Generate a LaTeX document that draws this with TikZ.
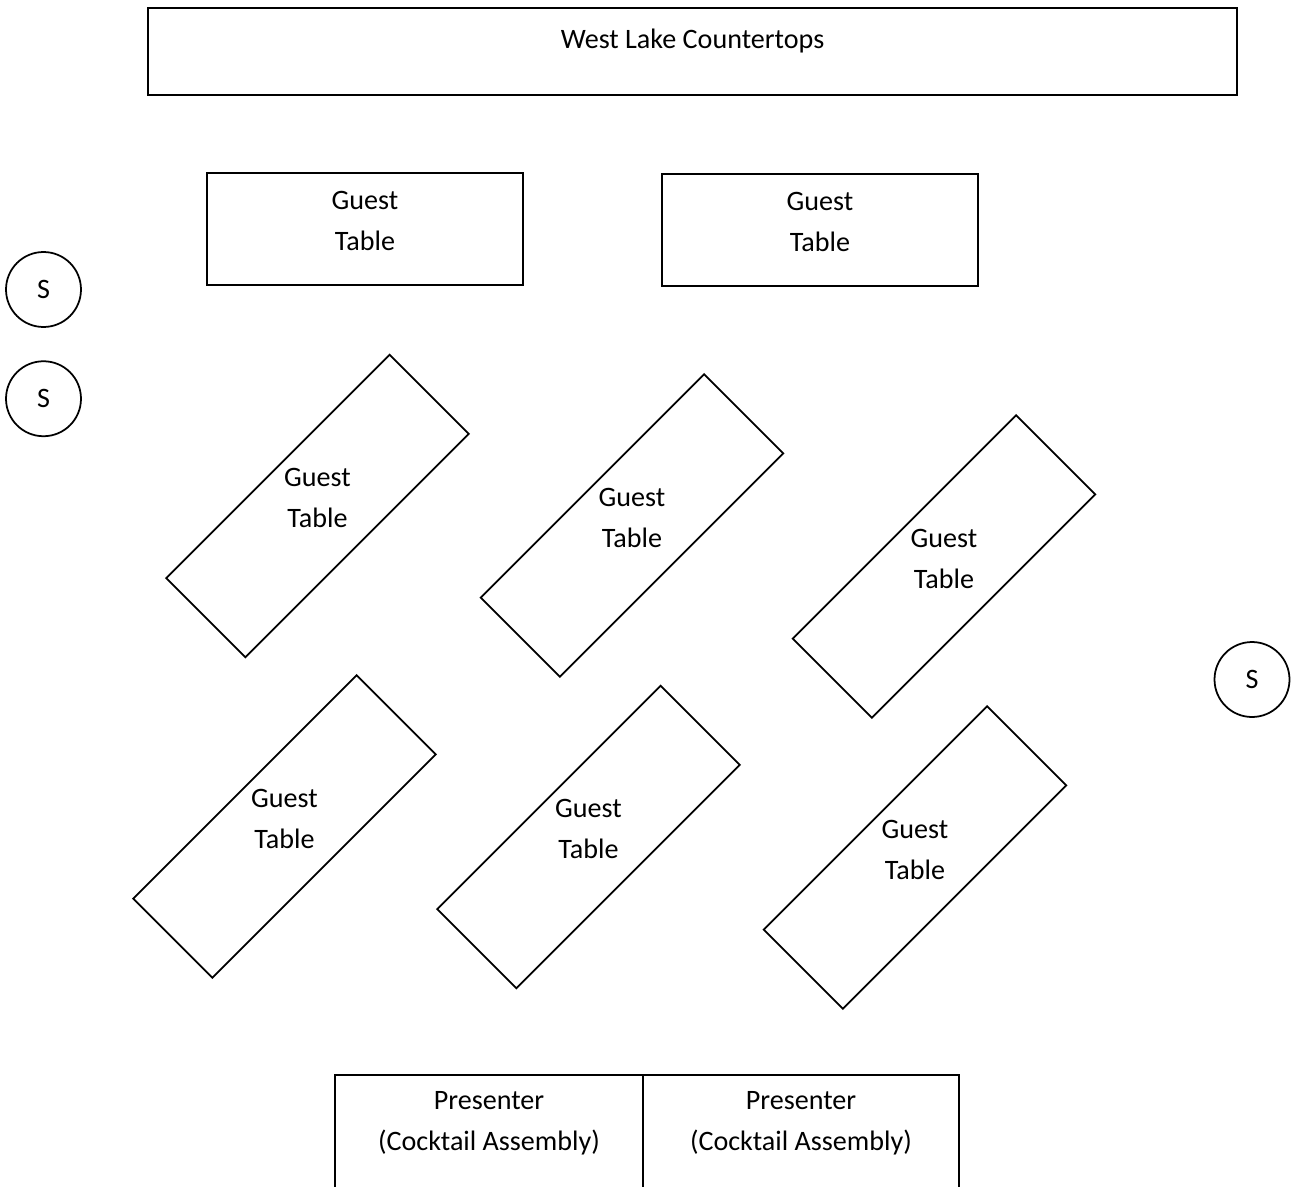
\documentclass[tikz,border=0pt]{standalone}
\usepackage{fontspec}
\setmainfont{Carlito}
\usepackage{tikz}
\usetikzlibrary{positioning}

\begin{document}
\begin{tikzpicture}[x=0.02cm,y=-0.02cm,font=\fontsize{16}{23.3}\selectfont,
  tb/.style={draw,line width=1pt,minimum width=6.32cm,minimum height=2.24cm,
             inner sep=0pt},
  tl/.style={align=center,inner sep=0pt,yshift=4.5pt},
  st/.style={draw,circle,line width=1pt,minimum size=1.5cm,inner sep=0pt},
]
\path[use as bounding box,clip] (0,0) rectangle (1294,1186);

% counter along the top wall
\node[tb,minimum width=21.78cm,minimum height=1.74cm] (counter) at (692.5,51.5) {};
\node[tl,yshift=1.5pt] (countert) at (counter) {West Lake Countertops};

% two straight tables in front
\node[tb] (g1) at (365,229) {};
\node[tl] (g1t) at (g1) {Guest\\Table};
\node[tb] (g2) at (820,230) {};
\node[tl] (g2t) at (g2) {Guest\\Table};

% angled tables
\foreach \n/\x/\y in {3/317.5/506,4/632/525.5,5/944/566.5,
                      6/284.5/826.5,7/588.5/837,8/915/857.5}{
  \node[tb,rotate=45] (g\n) at (\x,\y) {};
  \node[tl] (g\n t) at (g\n) {Guest\\Table};
}

% seats
\node[st] (s1) at (43.5,289.5) {S};
\node[st,below=0.65cm of s1] (s2) {S};
\node[st] (s3) at (1252,679.5) {S};

% presenters at the bottom
\node[tb,minimum width=6.16cm,minimum height=2.26cm] (p1) at (489,1131.5) {};
\node[tb,minimum height=2.26cm,right=-1pt of p1] (p2) {};
\node[tl] (p1t) at (p1) {Presenter\\(Cocktail Assembly)};
\node[tl] (p2t) at (p2) {Presenter\\(Cocktail Assembly)};
\end{tikzpicture}
\end{document}
